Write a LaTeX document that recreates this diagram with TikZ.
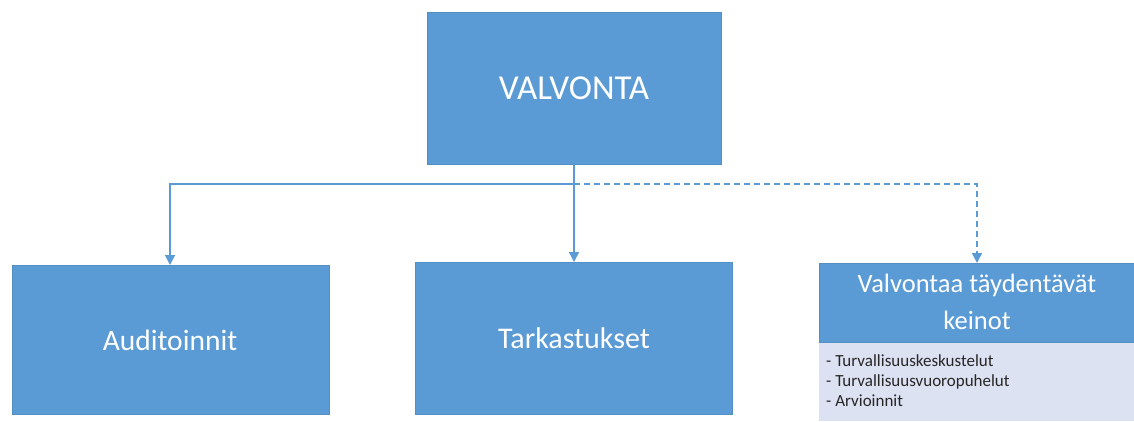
\documentclass[tikz,border=0pt]{standalone}
\usepackage{fontspec}
\setmainfont{Carlito}
\usetikzlibrary{arrows.meta}
\definecolor{boxblue}{HTML}{5B9BD5}
\definecolor{listbg}{HTML}{DCE2F2}
\begin{document}
\begin{tikzpicture}[x=1pt,y=-1pt,
  bluebox/.style={fill=boxblue,draw=boxblue!92!black,line width=0.3pt},
  conn/.style={draw=boxblue,line width=1.5pt,-{Triangle[width=10pt,length=10pt]}},
  dconn/.style={conn,dash pattern=on 6pt off 4pt}]
\useasboundingbox (0,0) rectangle (1134,421);
% top box
\path[bluebox] (427,12) rectangle (721,164);
\node[text=white,font=\fontsize{35}{40}\selectfont] (top) at (574,88) {VALVONTA};
\coordinate (topS) at (574,164);
% Auditoinnit
\path[bluebox] (12,265) rectangle (329,414);
\node[text=white,font=\fontsize{29.5}{34}\selectfont] (aud) at (170,340) {Auditoinnit};
\coordinate (audN) at (170,265);
% Tarkastukset
\path[bluebox] (415,262) rectangle (732,414);
\node[text=white,font=\fontsize{30}{35}\selectfont] (tar) at (574,338) {Tarkastukset};
\coordinate (tarN) at (574,262);
% right box
\path[fill=listbg] (819,342) rectangle (1134,421);
\path[bluebox] (819,263) rectangle (1134,342);
\node[text=white,align=center,font=\fontsize{26.5}{37}\selectfont] (val) at (977,302) {Valvontaa täydentävät\\keinot};
\node[anchor=north west,align=left,inner sep=0pt,font=\fontsize{17}{20}\selectfont,text=black!85] (list) at (826,354)
 {- Turvallisuuskeskustelut\\- Turvallisuusvuoropuhelut\\- Arvioinnit};
\coordinate (valN) at (977,263);
% junction
\coordinate (j) at (574,184);
% connectors
\draw[conn] (topS) -- (tarN);
\draw[conn] (j) -| (audN);
\draw[dconn] (j) -| (valN);
\end{tikzpicture}
\end{document}
